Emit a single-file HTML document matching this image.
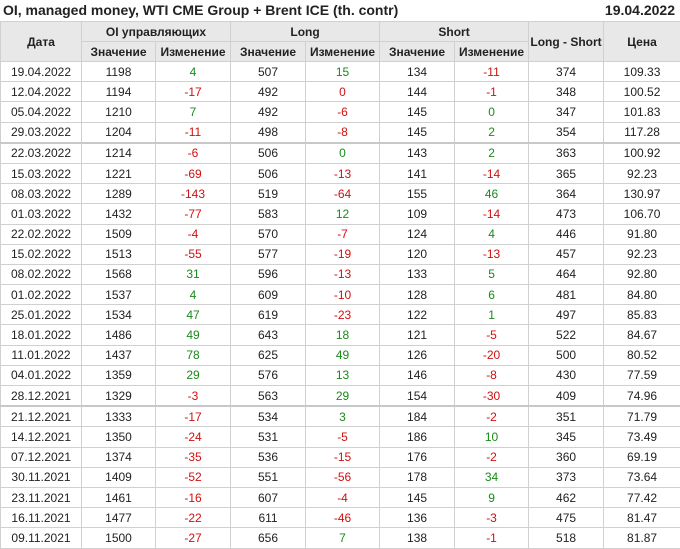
<!DOCTYPE html>
<html><head><meta charset="utf-8"><style>
body{margin:0;width:680px;height:548px;background:#fff;font-family:"Liberation Sans",Arial,sans-serif;color:#222;overflow:hidden;position:relative}
.t{position:absolute;top:2px;font-weight:bold;font-size:14px}
table{position:absolute;left:0;top:21px;width:680px;border-collapse:collapse;table-layout:fixed;font-size:12px}
td,th{border:1px solid #d0d0d0;text-align:center;padding:0;white-space:nowrap;overflow:hidden}
th{background:#e8e8e8;font-weight:bold;height:19px;font-size:12px}
td{height:19.2px}
.g{color:#1a8a1a}.r{color:#d01010}
tr.s td{border-bottom:2px solid #c8c8c8}
</style></head><body>
<div class="t" style="left:3px">OI, managed money, WTI CME Group + Brent ICE (th. contr)</div>
<div class="t" style="right:5px">19.04.2022</div>
<table>
<colgroup><col style="width:81px"><col style="width:74px"><col style="width:75px"><col style="width:75px"><col style="width:74px"><col style="width:75px"><col style="width:74px"><col style="width:75px"><col style="width:77px"></colgroup>
<tr><th rowspan="2">Дата</th><th colspan="2">OI управляющих</th><th colspan="2">Long</th><th colspan="2">Short</th><th rowspan="2">Long - Short</th><th rowspan="2">Цена</th></tr>
<tr><th>Значение</th><th>Изменение</th><th>Значение</th><th>Изменение</th><th>Значение</th><th>Изменение</th></tr>
<tr><td>19.04.2022</td><td>1198</td><td class="g">4</td><td>507</td><td class="g">15</td><td>134</td><td class="r">-11</td><td>374</td><td>109.33</td></tr>
<tr><td>12.04.2022</td><td>1194</td><td class="r">-17</td><td>492</td><td class="r">0</td><td>144</td><td class="r">-1</td><td>348</td><td>100.52</td></tr>
<tr><td>05.04.2022</td><td>1210</td><td class="g">7</td><td>492</td><td class="r">-6</td><td>145</td><td class="g">0</td><td>347</td><td>101.83</td></tr>
<tr class="s"><td>29.03.2022</td><td>1204</td><td class="r">-11</td><td>498</td><td class="r">-8</td><td>145</td><td class="g">2</td><td>354</td><td>117.28</td></tr>
<tr><td>22.03.2022</td><td>1214</td><td class="r">-6</td><td>506</td><td class="g">0</td><td>143</td><td class="g">2</td><td>363</td><td>100.92</td></tr>
<tr><td>15.03.2022</td><td>1221</td><td class="r">-69</td><td>506</td><td class="r">-13</td><td>141</td><td class="r">-14</td><td>365</td><td>92.23</td></tr>
<tr><td>08.03.2022</td><td>1289</td><td class="r">-143</td><td>519</td><td class="r">-64</td><td>155</td><td class="g">46</td><td>364</td><td>130.97</td></tr>
<tr><td>01.03.2022</td><td>1432</td><td class="r">-77</td><td>583</td><td class="g">12</td><td>109</td><td class="r">-14</td><td>473</td><td>106.70</td></tr>
<tr><td>22.02.2022</td><td>1509</td><td class="r">-4</td><td>570</td><td class="r">-7</td><td>124</td><td class="g">4</td><td>446</td><td>91.80</td></tr>
<tr><td>15.02.2022</td><td>1513</td><td class="r">-55</td><td>577</td><td class="r">-19</td><td>120</td><td class="r">-13</td><td>457</td><td>92.23</td></tr>
<tr><td>08.02.2022</td><td>1568</td><td class="g">31</td><td>596</td><td class="r">-13</td><td>133</td><td class="g">5</td><td>464</td><td>92.80</td></tr>
<tr><td>01.02.2022</td><td>1537</td><td class="g">4</td><td>609</td><td class="r">-10</td><td>128</td><td class="g">6</td><td>481</td><td>84.80</td></tr>
<tr><td>25.01.2022</td><td>1534</td><td class="g">47</td><td>619</td><td class="r">-23</td><td>122</td><td class="g">1</td><td>497</td><td>85.83</td></tr>
<tr><td>18.01.2022</td><td>1486</td><td class="g">49</td><td>643</td><td class="g">18</td><td>121</td><td class="r">-5</td><td>522</td><td>84.67</td></tr>
<tr><td>11.01.2022</td><td>1437</td><td class="g">78</td><td>625</td><td class="g">49</td><td>126</td><td class="r">-20</td><td>500</td><td>80.52</td></tr>
<tr><td>04.01.2022</td><td>1359</td><td class="g">29</td><td>576</td><td class="g">13</td><td>146</td><td class="r">-8</td><td>430</td><td>77.59</td></tr>
<tr class="s"><td>28.12.2021</td><td>1329</td><td class="r">-3</td><td>563</td><td class="g">29</td><td>154</td><td class="r">-30</td><td>409</td><td>74.96</td></tr>
<tr><td>21.12.2021</td><td>1333</td><td class="r">-17</td><td>534</td><td class="g">3</td><td>184</td><td class="r">-2</td><td>351</td><td>71.79</td></tr>
<tr><td>14.12.2021</td><td>1350</td><td class="r">-24</td><td>531</td><td class="r">-5</td><td>186</td><td class="g">10</td><td>345</td><td>73.49</td></tr>
<tr><td>07.12.2021</td><td>1374</td><td class="r">-35</td><td>536</td><td class="r">-15</td><td>176</td><td class="r">-2</td><td>360</td><td>69.19</td></tr>
<tr><td>30.11.2021</td><td>1409</td><td class="r">-52</td><td>551</td><td class="r">-56</td><td>178</td><td class="g">34</td><td>373</td><td>73.64</td></tr>
<tr><td>23.11.2021</td><td>1461</td><td class="r">-16</td><td>607</td><td class="r">-4</td><td>145</td><td class="g">9</td><td>462</td><td>77.42</td></tr>
<tr><td>16.11.2021</td><td>1477</td><td class="r">-22</td><td>611</td><td class="r">-46</td><td>136</td><td class="r">-3</td><td>475</td><td>81.47</td></tr>
<tr><td>09.11.2021</td><td>1500</td><td class="r">-27</td><td>656</td><td class="g">7</td><td>138</td><td class="r">-1</td><td>518</td><td>81.87</td></tr>
</table>
</body></html>
